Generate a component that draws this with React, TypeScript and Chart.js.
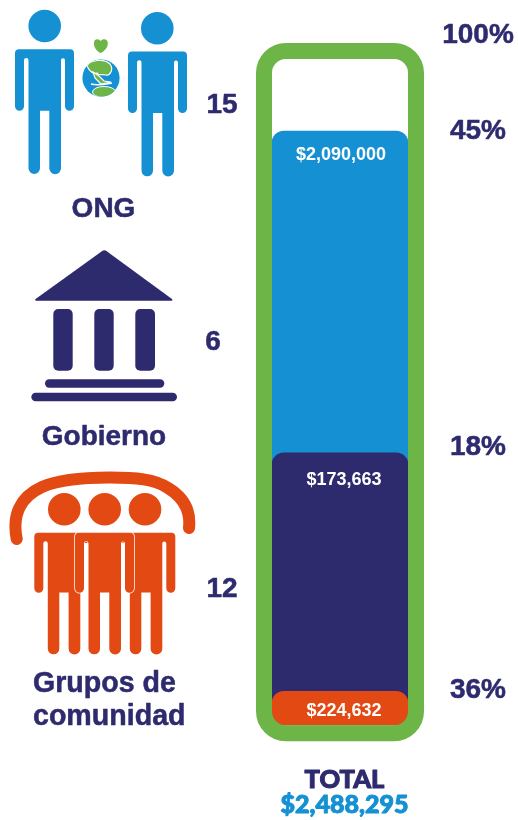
import React, { useEffect, useRef } from "react";
import { Chart, registerables } from "chart.js";

Chart.register(...registerables);

const BLUE = "#1591d3";
const NAVY = "#2d2a6e";
const ORANGE = "#e34912";
const GREEN = "#6db546";
const SANS = '"Liberation Sans", Arial, sans-serif';

const categories = ["Total"];
const fillLevels = [89.2, 40.9, 5.1];
const fillColors = [BLUE, NAVY, ORANGE];
const amountLabels = ["$2,090,000", "$173,663", "$224,632"];
const shareLabels = ["45%", "18%", "36%"];
const countLabels = ["15", "6", "12"];
const totalLabel = "TOTAL";
const totalAmount = "$2,488,295";

const PERSON =
  "M4,0 H55 Q59,0 59,4 V57 A4.5,4.5 0 0 1 50,57 V11 A2,2 0 0 0 46,11 V119 A5.85,5.85 0 0 1 34.3,119 V61.4 H25 V119 A5.75,5.75 0 0 1 13.5,119 V11 A2.25,2.25 0 0 0 9,11 V57 A4.5,4.5 0 0 1 0,57 V4 Q0,0 4,0 Z";

function Icons() {
  return (
    <svg
      width={518}
      height={820}
      style={{ position: "absolute", left: 0, top: 0, pointerEvents: "none" }}
    >
      <defs>
        <clipPath id="globe">
          <circle cx={101} cy={78} r={18.6} />
        </clipPath>
      </defs>
      <g fill={BLUE}>
        <circle cx={44.7} cy={26} r={16.3} />
        <path d={PERSON} transform="translate(15,49.3)" />
        <circle cx={157.3} cy={28.3} r={16.3} />
        <path d={PERSON} transform="translate(128,51.6)" />
      </g>
      <path
        d="M100.6,53 C96,51 93.6,46.5 94,42.5 C94.5,38.6 98.4,38.6 100.6,41 C102.8,38.6 107.2,38.6 107.8,42.5 C108.2,46.5 105.4,51 100.6,53 Z"
        fill={GREEN}
      />
      <circle cx={101} cy={78} r={18.6} fill={BLUE} />
      <g clipPath="url(#globe)">
        <path
          d="M87,66 C90,60 104,58 110,64 C114,69 110,76 106,75 C100,74 98,76 97,73 C94,74 90,72 87,66 Z"
          fill={GREEN}
          stroke="#fff"
          strokeWidth={1.2}
        />
        <path d="M93,72 L99,76 L104,81 L111,82 L101,84 L95,78 Z" fill={GREEN} stroke="#fff" strokeWidth={1.2} />
        <path d="M91,84 C98,86 106,84 112,83" fill="none" stroke="#fff" strokeWidth={1.4} />
        <ellipse cx={104} cy={92} rx={11.5} ry={5.5} fill={GREEN} stroke="#fff" strokeWidth={1} />
      </g>

      <g fill={NAVY}>
        <path d="M102.5,250.8 Q104.3,249.7 106.1,250.8 L172,299 Q173.2,300.7 171.5,300.7 L36.2,300.7 Q34.4,300.7 35.6,299 Z" />
        <rect x={53.3} y={309} width={19.4} height={61.7} rx={5} />
        <rect x={94.3} y={309} width={19.4} height={61.7} rx={5} />
        <rect x={135.3} y={309} width={19.7} height={61.7} rx={5} />
        <rect x={45} y={379.3} width={119.3} height={8.4} rx={4.2} />
        <rect x={31.3} y={392.7} width={145.7} height={8.6} rx={4.3} />
      </g>

      <path
        d="M16.7,539 C12,515 20,497 42,487 C60,479 85,477.5 110,477.5 C135,477.5 155,479 168,488 C183,497 191,510 189,528"
        fill="none"
        stroke={ORANGE}
        strokeWidth={12}
        strokeLinecap="round"
      />
      <g fill={ORANGE}>
        <circle cx={64.3} cy={509.3} r={16.3} />
        <circle cx={104.7} cy={509.3} r={16.3} />
        <circle cx={145} cy={509.3} r={16.3} />
        <path d={PERSON} transform="translate(34.3,532.7) scale(1,0.975)" />
        <path d={PERSON} transform="translate(116.3,532.7) scale(1,0.975)" />
        <rect x={84} y={543} width={5} height={50} fill="#fff" />
        <rect x={121} y={543} width={4.6} height={50} fill="#fff" />
        <path
          d={PERSON}
          transform="translate(75,532.7) scale(1,0.975)"
          stroke="#fff"
          strokeWidth={1.5}
          paintOrder="stroke"
        />
      </g>
    </svg>
  );
}

function drawText(ctx: any, text: string, x: number, y: number, weight: number) {
  ctx.lineWidth = weight;
  ctx.strokeStyle = ctx.fillStyle;
  ctx.lineJoin = "round";
  ctx.strokeText(text, x, y);
  ctx.fillText(text, x, y);
}

const annotationPlugin = {
  id: "annotations",
  beforeDraw(chart: any) {
    const { ctx, width, height } = chart;
    ctx.save();
    ctx.fillStyle = "#ffffff";
    ctx.fillRect(0, 0, width, height);
    ctx.restore();
  },
  afterDatasetsDraw(chart: any) {
    const { ctx, chartArea: a } = chart;
    ctx.save();

    // the green tube around the bar
    ctx.strokeStyle = GREEN;
    ctx.lineWidth = 16;
    ctx.beginPath();
    ctx.roundRect(a.left - 8, a.top - 8, a.right - a.left + 16, a.bottom - a.top + 16, 22);
    ctx.stroke();

    // amounts inside the bar
    ctx.textAlign = "center";
    ctx.textBaseline = "middle";
    ctx.fillStyle = "#ffffff";
    ctx.font = `bold 18px ${SANS}`;
    const offsets = [24, 27, 19.5];
    const dx = [1, 4, 4];
    amountLabels.forEach((label, i) => {
      const bar = chart.getDatasetMeta(i).data[0];
      ctx.fillText(label, bar.x + dx[i], bar.y + offsets[i]);
    });

    // shares to the right of the bar
    ctx.fillStyle = NAVY;
    ctx.font = `bold 28px ${SANS}`;
    const shareY = [131.5, 447, 690.5];
    shareLabels.forEach((label, i) => drawText(ctx, label, 478, shareY[i], 0.5));
    drawText(ctx, "100%", 478, 35, 0.5);

    // counts
    const countX = [222, 213, 222];
    const countY = [105, 342, 589];
    countLabels.forEach((label, i) => drawText(ctx, label, countX[i], countY[i], 0.5));

    // group names
    drawText(ctx, "ONG", 103.5, 209, 0.5);
    drawText(ctx, "Gobierno", 104, 437, 0.5);
    ctx.textAlign = "left";
    ctx.textBaseline = "alphabetic";
    ctx.font = `bold 28.6px ${SANS}`;
    drawText(ctx, "Grupos de", 33, 691.7, 0.5);
    drawText(ctx, "comunidad", 33, 725, 0.5);

    // total
    ctx.textAlign = "center";
    ctx.font = `900 25.5px Lato, ${SANS}`;
    drawText(ctx, totalLabel, 344.5, 788, 1);
    ctx.fillStyle = BLUE;
    ctx.font = `900 25px Lato, ${SANS}`;
    drawText(ctx, totalAmount, 344.5, 813, 1);

    ctx.restore();
  },
};

export default function App() {
  const ref = useRef<HTMLCanvasElement | null>(null);

  useEffect(() => {
    if (!ref.current) return;
    const chart = new Chart(ref.current, {
      type: "bar",
      data: {
        labels: categories,
        datasets: fillLevels.map((v, i) => ({
          label: amountLabels[i],
          data: [v],
          backgroundColor: fillColors[i],
          borderWidth: 0,
          borderSkipped: false,
          borderRadius: { topLeft: 12, topRight: 12, bottomLeft: 14, bottomRight: 14 },
          barPercentage: 1,
          categoryPercentage: 1,
          grouped: false,
          order: fillLevels.length - i,
        })),
      },
      options: {
        responsive: false,
        animation: false,
        layout: { padding: { left: 272, right: 110, top: 59, bottom: 94.7 } },
        scales: {
          x: { display: false, stacked: false },
          y: { display: false, min: 0, max: 100 },
        },
        plugins: { legend: { display: false }, tooltip: { enabled: false }, title: { display: false } },
      },
      plugins: [annotationPlugin],
    } as any);
    return () => chart.destroy();
  }, []);

  return (
    <div style={{ position: "absolute", left: 0, top: 0, width: 518, height: 820 }}>
      <canvas ref={ref} width={518} height={820} style={{ display: "block" }} />
      <Icons />
    </div>
  );
}
